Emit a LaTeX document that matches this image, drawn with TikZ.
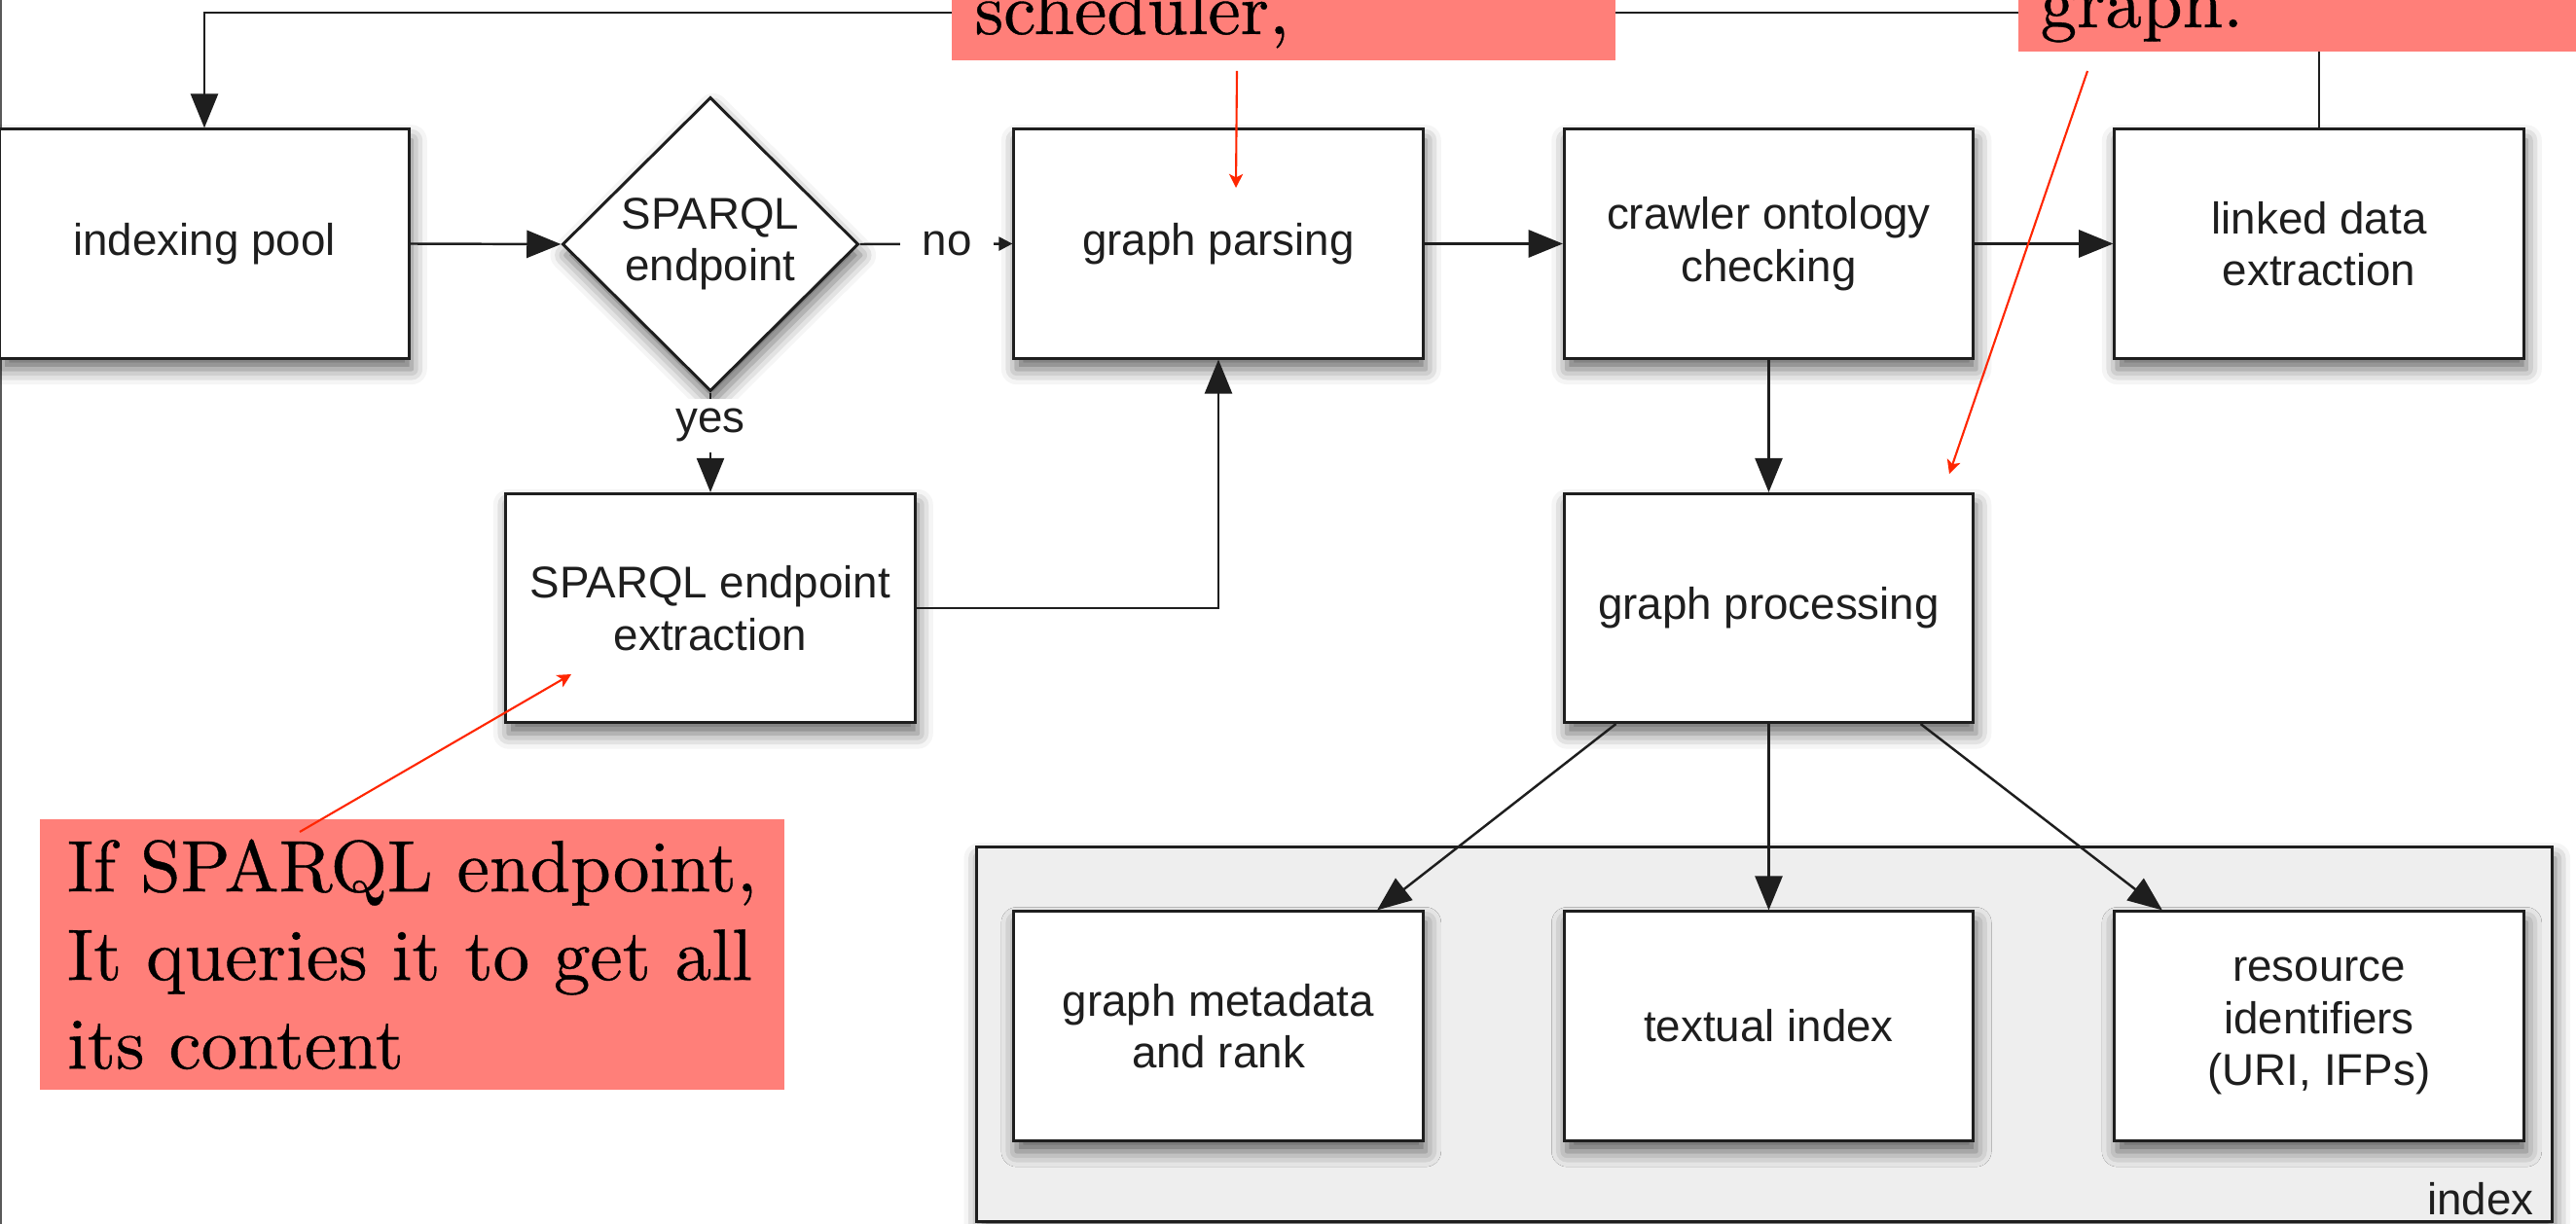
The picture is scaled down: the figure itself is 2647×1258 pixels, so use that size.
\documentclass[tikz,border=0pt]{standalone}
\usepackage{fontspec}
\newfontfamily\boxfont{Liberation Sans}
\newfontfamily\notefont{lmroman10-regular}[Extension=.otf, FakeBold=0.5]
\usetikzlibrary{arrows.meta,shapes.geometric,shadows.blur}
\definecolor{notefill}{RGB}{255,127,121}
\definecolor{notered}{RGB}{255,38,0}
\definecolor{ink}{RGB}{30,30,30}
\definecolor{indexgray}{RGB}{238,238,238}

\begin{document}
\begin{tikzpicture}[x=0.01cm, y=-0.01cm,
  boxtext/.style={font=\boxfont\fontsize{13}{15.2}\selectfont, text=ink},
  softshadow/.style={blur shadow={shadow xshift=0.8pt, shadow yshift=-3.2pt,
      shadow blur radius=4.5pt, shadow opacity=60}},
  stepbox/.style={boxtext, draw=ink, line width=0.85pt, fill=white,
      minimum width=4.2cm, minimum height=2.35cm, inner sep=0pt,
      align=center, softshadow},
  decision/.style={boxtext, shape=diamond, draw=ink, line width=0.85pt, fill=white,
      minimum width=3.04cm, minimum height=3.02cm, inner sep=0pt,
      align=center, softshadow},
  store/.style={draw=ink, line width=0.85pt, fill=indexgray,
      minimum width=16.18cm, minimum height=3.84cm, inner sep=0pt, softshadow},
  flow/.style={draw=ink, line width=0.7pt, -{Triangle[length=10pt,width=8pt]}},
  smallhead/.style={-{Triangle[length=4pt,width=4pt]}},
  edgelbl/.style={boxtext, fill=white, inner xsep=6.5pt, inner ysep=3pt},
  notebox/.style={fill=notefill, inner sep=0pt},
  notetext/.style={font=\notefont\fontsize{21.3}{25.9}\selectfont, text=black},
  callout/.style={draw=notered, line width=0.6pt,
      -{Stealth[length=4pt,width=4pt,inset=1pt]}},
]
\path[use as bounding box, clip] (0,0) rectangle (2647,1258);

% page edge on the left
\draw[gray!70!black, line width=0.6pt] (1,0) -- (1,1258);

% index store with its three parts
\node[store] (idx) at (1813,1063) {};
\node[boxtext, anchor=base east, inner sep=0pt] (idxlbl) at (2604,1248) {index};

% main flow
\node[stepbox] (ip) at (210,250.5) {indexing pool};
\node[decision] (dec) at (730,251) {SPARQL\\endpoint};
\node[stepbox] (gp) at (1252,250.5) {graph parsing};
\node[stepbox] (cr) at (1817.5,250.5) {crawler ontology\\checking};
\node[stepbox] (lde) at (2383,250.5) {linked data\\extraction};
\node[stepbox] (se) at (730,625) {SPARQL endpoint\\extraction};
\node[stepbox] (gproc) at (1817.5,625) {graph processing};
\node[stepbox] (gm) at (1252,1054.5) {graph metadata\\and rank};
\node[stepbox] (ti) at (1817.5,1054.5) {textual index};
\node[stepbox] (ri) at (2383,1054.5) {resource\\identifiers\\(URI, IFPs)};

\coordinate (fb) at (1300,13);

\draw[flow] (ip.east) -- (dec.west);
\draw[flow, smallhead] (dec.east) -- node[edgelbl, pos=0.571] {no} (gp.west);
\draw[flow] (gp.east) -- (cr.west);
\draw[flow] (cr.east) -- (lde.west);
\draw[flow] (dec.south) -- node[edgelbl, pos=0.33] {yes} (se.north);
\draw[flow] (se.east) -| (gp.south);
\draw[flow] (cr.south) -- (gproc.north);
\draw[flow] ([xshift=-1.57cm]gproc.south) -- ([xshift=1.63cm]gm.north);
\draw[flow] (gproc.south) -- (ti.north);
\draw[flow] ([xshift=1.56cm]gproc.south) -- ([xshift=-1.61cm]ri.north);
\draw[flow] (lde.north) |- (fb) -| (ip.north);

% notes
\node[notebox, anchor=south west, minimum width=6.82cm, minimum height=1.8cm] (n1) at (977,63) {};
\node[notetext, anchor=base west, inner sep=0pt] (n1t) at (1001,35) {scheduler,};
\node[notebox, anchor=south west, minimum width=6.2cm, minimum height=1.8cm] (n2) at (2073,54) {};
\node[notetext, anchor=base west, inner sep=0pt] (n2t) at (2096,28) {graph.};
\node[notebox, notetext, anchor=north west, minimum width=7.65cm, minimum height=2.78cm,
      align=left] (n3) at (40,841) {If SPARQL endpoint,\\It queries it to get all\\its content};

\coordinate (r1a) at (1271,73);
\coordinate (r1b) at (1270,193);
\coordinate (r2a) at (2145,73);
\coordinate (r2b) at (2003,487);
\coordinate (r3a) at (308,855);
\coordinate (r3b) at (587,693);
\draw[callout] (r1a) -- (r1b);
\draw[callout] (r2a) -- (r2b);
\draw[callout] (r3a) -- (r3b);
\end{tikzpicture}
\end{document}
